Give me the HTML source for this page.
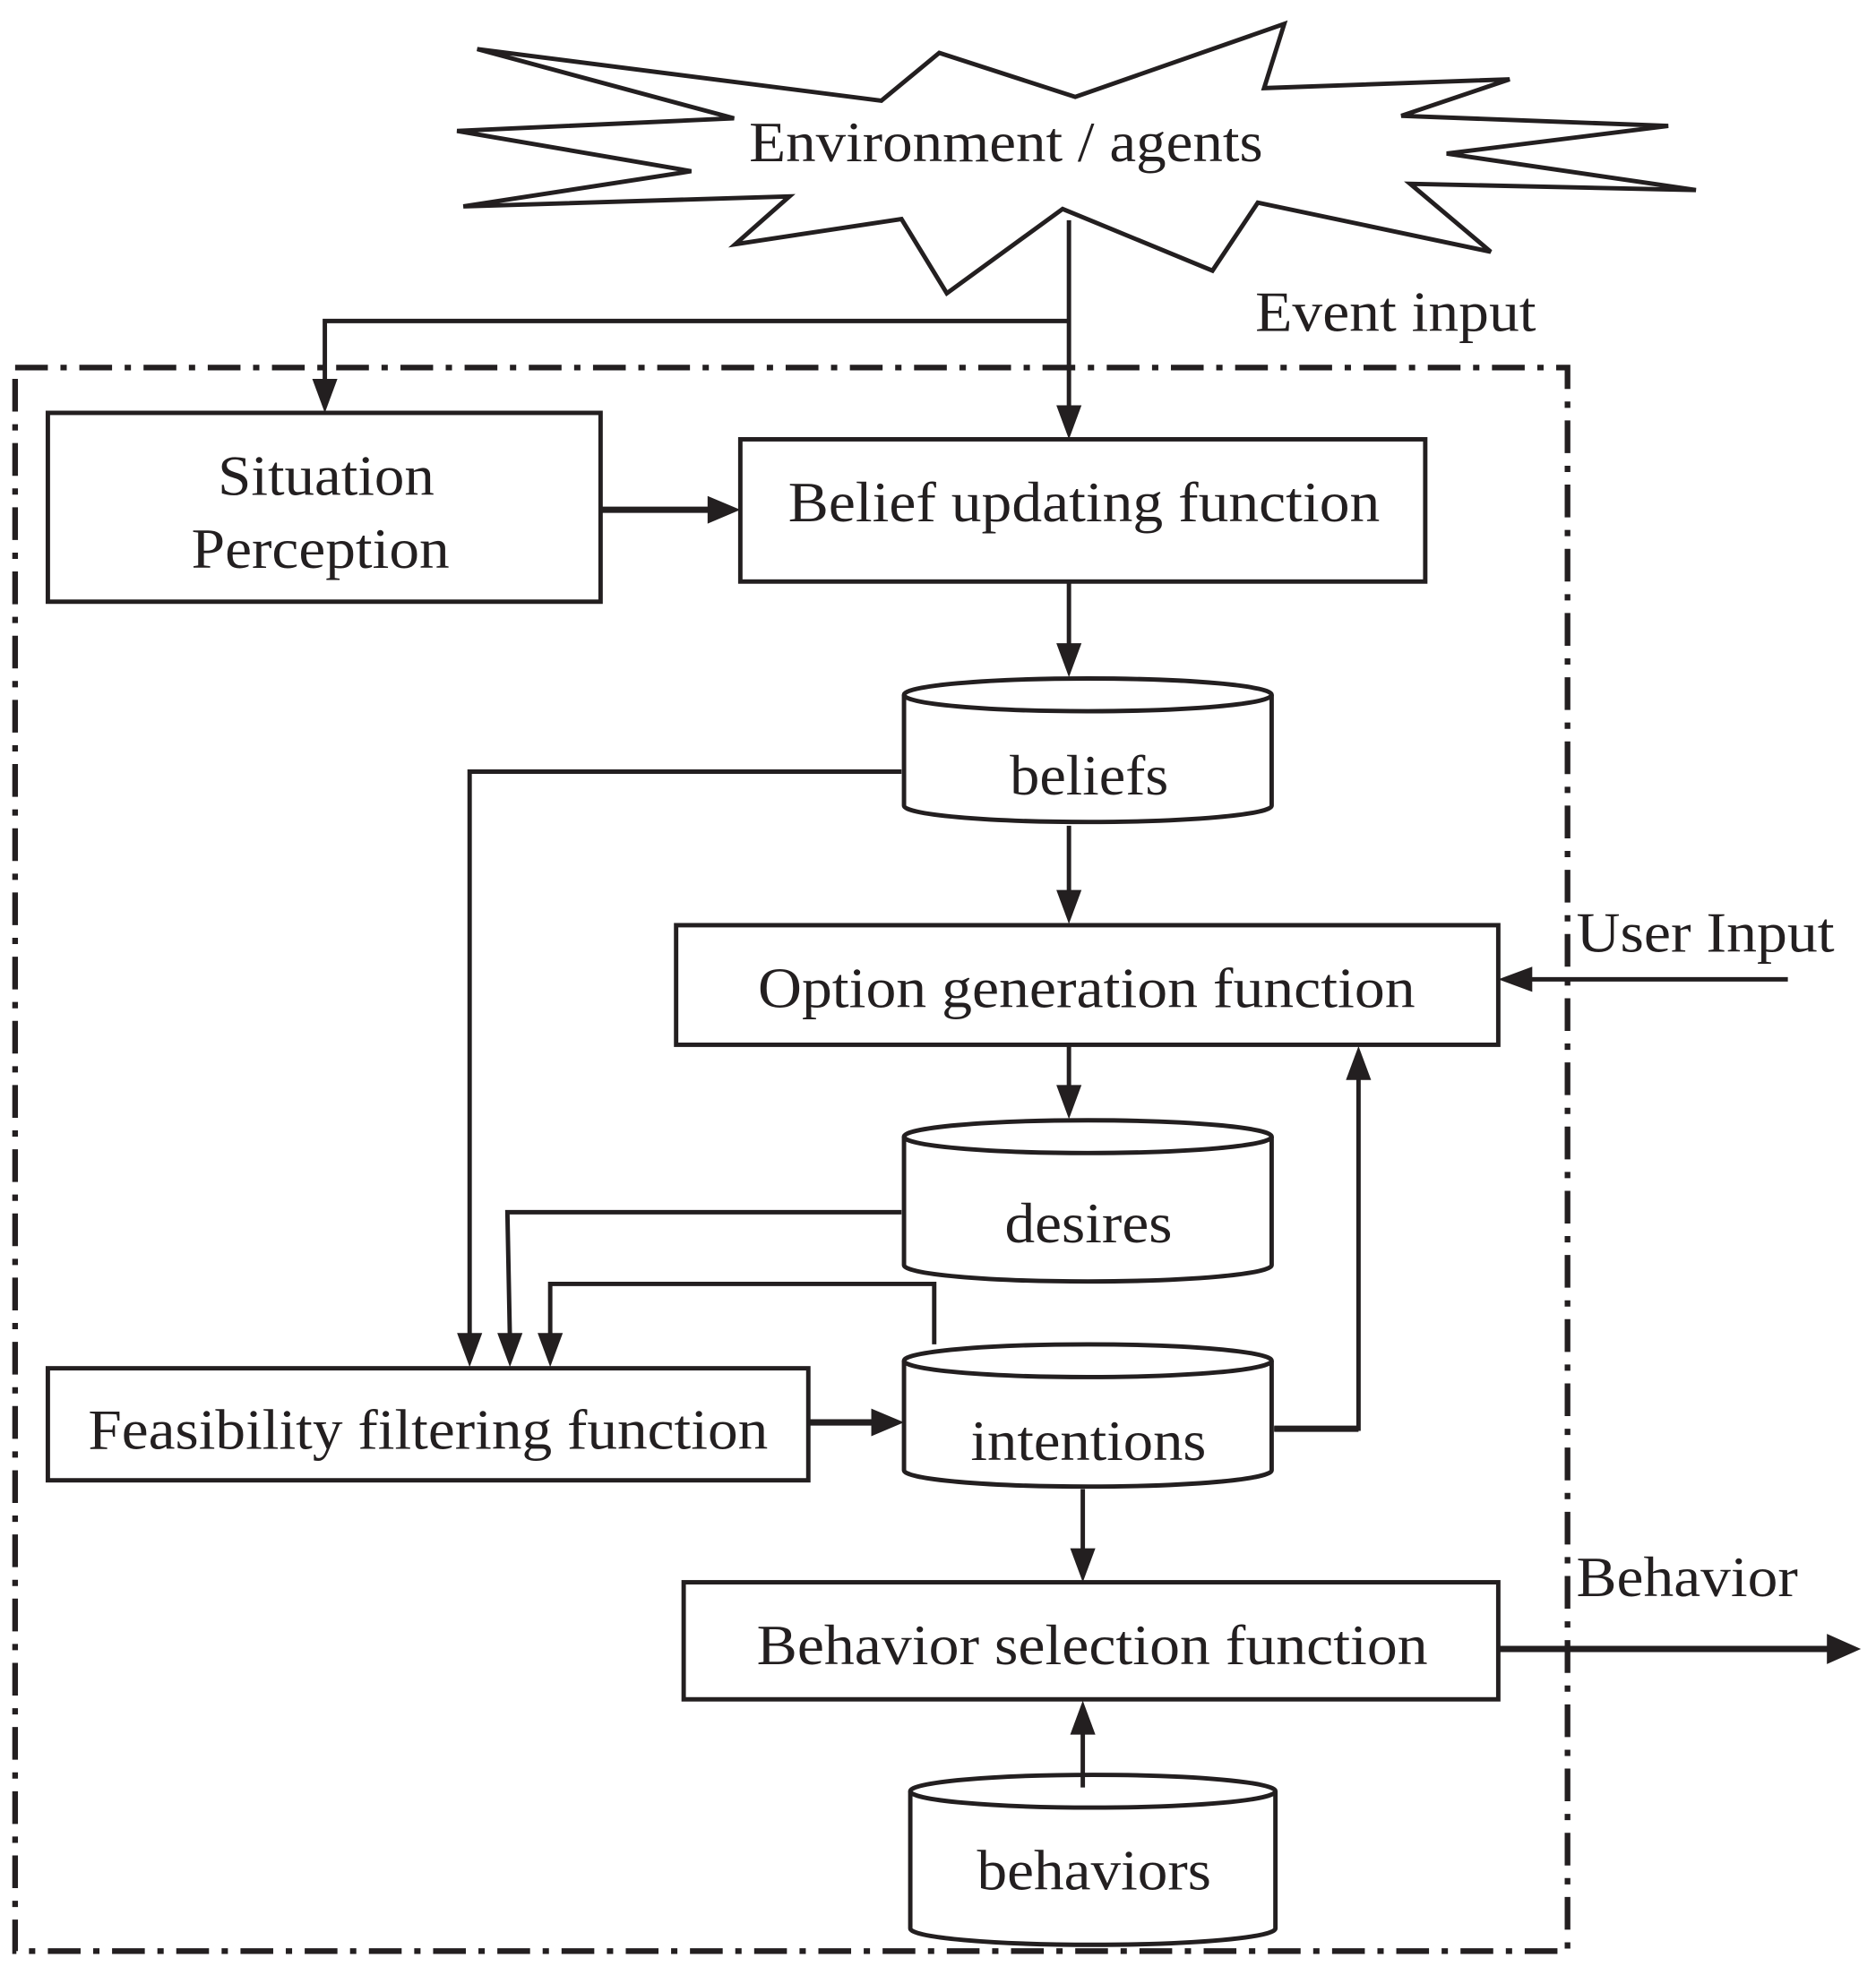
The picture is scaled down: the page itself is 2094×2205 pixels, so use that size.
<!DOCTYPE html>
<html><head><meta charset="utf-8"><style>
html,body{margin:0;padding:0;background:#fff}
svg{display:block}
text{font-family:"Liberation Serif",serif;fill:#231f20}
</style></head><body>
<svg width="2094" height="2205" viewBox="0 0 1490 1569" xmlns="http://www.w3.org/2000/svg">
<g fill="none" stroke="#231f20" stroke-width="3.5">
<polygon fill="#fff" points="379,39 700,80 746,42 854,77 1020,19 1004,70 1199,63 1113,92 1325,100 1149,122 1347,151 1120,146 1184,200 999,161 963,215 844,166 752,233 716,174 584,194 627,156 368,164 549,136 363,104 583,94"/>
<rect x="12" y="292" width="1233" height="1258" stroke-width="4.5" stroke-dasharray="26 10 5 10"/>
<polyline points="849,175 849,328"/>
<polyline points="849,255 258,255 258,306"/>
<rect x="38" y="328" width="439" height="150"/>
<rect x="588" y="349" width="544" height="113"/>
<line x1="477" y1="405" x2="566" y2="405" stroke-width="5"/>
<line x1="849" y1="462" x2="849" y2="516"/>
<path d="M718,552 A146,13 0 0 1 1010,552 L1010,640 A146,13 0 0 1 718,640 Z" fill="#fff"/>
<path d="M718,552 A146,13 0 0 0 1010,552"/>
<polyline points="716,613 373,613 373,1064"/>
<line x1="849" y1="656" x2="849" y2="712"/>
<rect x="537" y="735" width="653" height="95"/>
<line x1="1420" y1="778" x2="1212" y2="778"/>
<line x1="849" y1="830" x2="849" y2="866"/>
<path d="M718,903 A146,13 0 0 1 1010,903 L1010,1005 A146,13 0 0 1 718,1005 Z" fill="#fff"/>
<path d="M718,903 A146,13 0 0 0 1010,903"/>
<polyline points="716,963 403,963 405,1064"/>
<polyline points="742,1068 742,1020 437,1020 437,1064"/>
<rect x="38" y="1087" width="604" height="89"/>
<line x1="642" y1="1130" x2="697" y2="1130" stroke-width="5"/>
<path d="M718,1081 A146,13 0 0 1 1010,1081 L1010,1168 A146,13 0 0 1 718,1168 Z" fill="#fff"/>
<path d="M718,1081 A146,13 0 0 0 1010,1081"/>
<polyline points="1012,1135 1079,1135 1079,854"/>
<line x1="1012" y1="1135" x2="1079" y2="1135" stroke-width="5"/>
<line x1="860" y1="1183" x2="860" y2="1235"/>
<rect x="543" y="1257" width="647" height="93"/>
<line x1="1190" y1="1310" x2="1455" y2="1310" stroke-width="5"/>
<path d="M723,1423 A145,13 0 0 1 1013,1423 L1013,1532 A145,13 0 0 1 723,1532 Z" fill="#fff"/>
<path d="M723,1423 A145,13 0 0 0 1013,1423"/>
<line x1="860" y1="1420" x2="860" y2="1372"/>
</g>
<g fill="#231f20">
<polygon points="849,349 839,322 859,322"/>
<polygon points="258,328 248,301 268,301"/>
<polygon points="588,405 562,394 562,416"/>
<polygon points="849,538 839,511 859,511"/>
<polygon points="849,734 839,707 859,707"/>
<polygon points="1190,778 1217,768 1217,788"/>
<polygon points="849,889 839,862 859,862"/>
<polygon points="373,1086 363,1059 383,1059"/>
<polygon points="405,1086 395,1059 415,1059"/>
<polygon points="437,1086 427,1059 447,1059"/>
<polygon points="718,1130 692,1119 692,1141"/>
<polygon points="1079,831 1069,858 1089,858"/>
<polygon points="860,1257 850,1230 870,1230"/>
<polygon points="1478,1310 1451,1298 1451,1322"/>
<polygon points="860,1351 850,1378 870,1378"/>
</g>
<g font-size="45" lengthAdjust="spacingAndGlyphs">
<text x="595" y="128" textLength="408" lengthAdjust="spacingAndGlyphs">Environment / agents</text>
<text x="173" y="393" textLength="172" lengthAdjust="spacingAndGlyphs">Situation</text>
<text x="152" y="451" textLength="205" lengthAdjust="spacingAndGlyphs">Perception</text>
<text x="626" y="414" textLength="470" lengthAdjust="spacingAndGlyphs">Belief updating function</text>
<text x="802" y="631" textLength="126" lengthAdjust="spacingAndGlyphs">beliefs</text>
<text x="602" y="800" textLength="522" lengthAdjust="spacingAndGlyphs">Option generation function</text>
<text x="798" y="987" textLength="133" lengthAdjust="spacingAndGlyphs">desires</text>
<text x="70" y="1151" textLength="540" lengthAdjust="spacingAndGlyphs">Feasibility filtering function</text>
<text x="771" y="1160" textLength="187" lengthAdjust="spacingAndGlyphs">intentions</text>
<text x="601" y="1322" textLength="533" lengthAdjust="spacingAndGlyphs">Behavior selection function</text>
<text x="776" y="1501" textLength="186" lengthAdjust="spacingAndGlyphs">behaviors</text>
<text x="997" y="263" textLength="223" lengthAdjust="spacingAndGlyphs">Event input</text>
<text x="1252" y="756" textLength="205" lengthAdjust="spacingAndGlyphs">User Input</text>
<text x="1252" y="1268" textLength="176" lengthAdjust="spacingAndGlyphs">Behavior</text>
</g>
</svg>
</body></html>
